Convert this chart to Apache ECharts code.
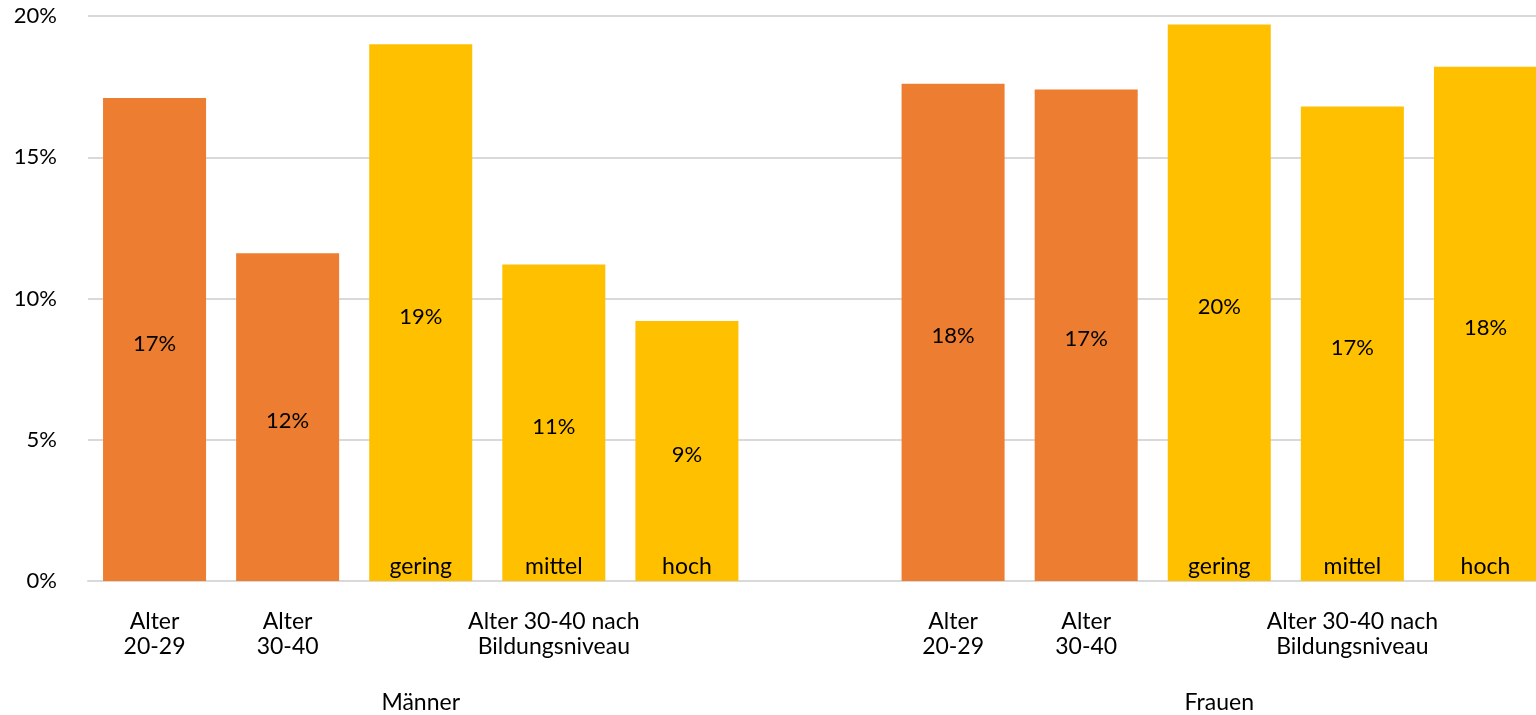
<!DOCTYPE html>
<html>
<head>
<meta charset="utf-8">
<script src="https://cdn.jsdelivr.net/npm/echarts@6/dist/echarts.min.js"></script>
<style>
html,body{margin:0;padding:0;background:#fff;}
#chart{width:1536px;height:715px;}
</style>
</head>
<body>
<div id="chart"></div>
<script>
// Data
const categories = ['M-20-29','M-30-40','M-gering','M-mittel','M-hoch','gap','F-20-29','F-30-40','F-gering','F-mittel','F-hoch'];
const values = [17.1, 11.6, 19.0, 11.2, 9.2, null, 17.6, 17.4, 19.7, 16.8, 18.2];
const groupType = ['alter','alter','bildung','bildung','bildung','', 'alter','alter','bildung','bildung','bildung'];
const barSubLabels = ['', '', 'gering', 'mittel', 'hoch', '', '', '', 'gering', 'mittel', 'hoch'];
const level1Labels = ['Alter\n20-29','Alter\n30-40','','Alter 30-40 nach\nBildungsniveau','','', 'Alter\n20-29','Alter\n30-40','','Alter 30-40 nach\nBildungsniveau',''];
const level2Labels = ['','','Männer','','','','','','Frauen','',''];
const yTicks = [0, 5, 10, 15, 20];

const colorMap = {alter:'#ED7D31', bildung:'#FFC000'};
const FONT = 'Lato';
const FS = 23;

const chart = echarts.init(document.getElementById('chart'));
chart.setOption({
  animation:false,
  textStyle:{fontFamily:FONT},
  grid:{left:88, top:16, bottom:134, right:-16, containLabel:false, outerBoundsMode:'none'},
  xAxis:[{
    type:'category', data:categories,
    axisLine:{show:true, lineStyle:{color:'#d9d9d9', width:2}},
    axisTick:{show:false},
    axisLabel:{interval:0, margin:28, color:'#000', fontFamily:FONT, fontSize:FS, lineHeight:25,
      formatter:(v,i)=>level1Labels[i]}
  },{
    type:'category', data:categories, position:'bottom',
    axisLine:{show:false}, axisTick:{show:false},
    axisLabel:{interval:0, margin:109, color:'#000', fontFamily:FONT, fontSize:FS, lineHeight:25,
      formatter:(v,i)=>level2Labels[i]}
  }],
  yAxis:{
    type:'value', min:yTicks[0], max:yTicks[yTicks.length-1], interval:5,
    axisLine:{show:false}, axisTick:{show:false},
    splitLine:{lineStyle:{color:'#d9d9d9', width:2}},
    axisLabel:{margin:31, color:'#000', fontFamily:FONT, fontSize:22, padding:[8,0,0,0],
      formatter:v=>v+'%'}
  },
  series:[{
    type:'bar', xAxisIndex:0,
    data:values.map((v,i)=>({value:v, itemStyle:{color:colorMap[groupType[i]]}})),
    barCategoryGap:'22.6%',
    label:{show:true, position:'inside', offset:[0,4], color:'#000', fontFamily:FONT, fontSize:22,
      formatter:p=>p.value==null?'':Math.round(p.value)+'%'}
  },{
    type:'bar', xAxisIndex:0, barGap:'-100%',
    data:values.map(v=>v),
    barCategoryGap:'22.6%',
    itemStyle:{color:'rgba(0,0,0,0)'},
    silent:true,
    label:{show:true, position:'insideBottom', distance:3, color:'#000', fontFamily:FONT, fontSize:FS,
      formatter:p=>barSubLabels[p.dataIndex]}
  }]
});
</script>
</body>
</html>
